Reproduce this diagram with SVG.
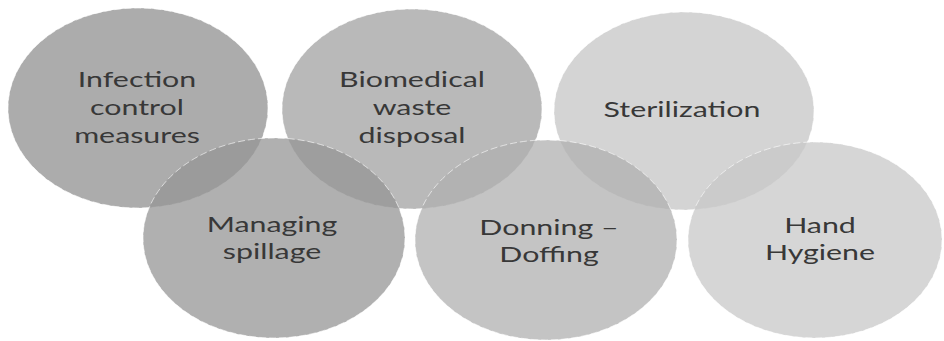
<svg xmlns="http://www.w3.org/2000/svg" width="944" height="341" viewBox="0 0 944 341">
<style>
.e{fill-opacity:0.75;stroke:#ffffff;stroke-opacity:0.6;stroke-width:1;stroke-dasharray:7 3}
.t{font-family:Lato,"Open Sans",sans-serif;font-size:22px;fill:#383838;text-anchor:middle}
</style>
<rect width="944" height="341" fill="#ffffff"/>
<g id="n1">
<ellipse class="e" cx="138" cy="108" rx="130" ry="100" fill="#909090"/>
<text class="t" transform="translate(137,0) scale(1.38,1)"><tspan x="0" y="87">Infection</tspan><tspan x="0" y="115">control</tspan><tspan x="0" y="143">measures</tspan></text>
</g>
<g id="n2">
<ellipse class="e" cx="412" cy="109" rx="130" ry="100" fill="#a2a2a2"/>
<text class="t" transform="translate(412,0) scale(1.38,1)"><tspan x="0" y="87">Biomedical</tspan><tspan x="0" y="115">waste</tspan><tspan x="0" y="143">disposal</tspan></text>
</g>
<g id="n3">
<ellipse class="e" cx="684" cy="111" rx="130" ry="99" fill="#c6c6c6"/>
<text class="t" transform="translate(682,0) scale(1.38,1)"><tspan x="0" y="117">Sterilization</tspan></text>
</g>
<g id="n4">
<ellipse class="e" cx="274" cy="238" rx="131" ry="100" fill="#969696"/>
<text class="t" transform="translate(272,0) scale(1.38,1)"><tspan x="0" y="232">Managing</tspan><tspan x="0" y="259">spillage</tspan></text>
</g>
<g id="n5">
<ellipse class="e" cx="546" cy="240" rx="131" ry="100" fill="#b0b0b0"/>
<text class="t" transform="translate(549,0) scale(1.38,1)"><tspan x="0" y="235">Donning –</tspan><tspan x="0" y="262">Doffing</tspan></text>
</g>
<g id="n6">
<ellipse class="e" cx="815" cy="240" rx="127" ry="98" fill="#c8c8c8"/>
<text class="t" transform="translate(820,0) scale(1.38,1)"><tspan x="0" y="233">Hand</tspan><tspan x="0" y="260">Hygiene</tspan></text>
</g>
<g id="connectors"/>
</svg>
